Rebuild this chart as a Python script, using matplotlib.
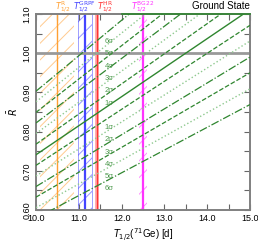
import matplotlib.pyplot as plt
from matplotlib.transforms import blended_transform_factory

plt.switch_backend('Agg')
plt.rcParams['font.family'] = ['Liberation Sans', 'DejaVu Sans']
plt.rcParams['mathtext.fontset'] = 'dejavusans'
plt.rcParams['hatch.linewidth'] = 0.7

# Rbar lines, read at the two ends of the x range (T = 10 d and T = 15 d)
t_ends = [10.0, 15.0]
ground_ends = [0.741, 1.111]
sigma_levels = [1, 2, 3, 4, 5, 6]
upper_ends = [[0.768, 1.152], [0.795, 1.193], [0.822, 1.233],
              [0.849, 1.274], [0.876, 1.314], [0.903, 1.355]]
lower_ends = [[0.714, 1.071], [0.687, 1.031], [0.660, 0.990],
              [0.633, 0.950], [0.606, 0.909], [0.579, 0.869]]

# half-life measurements: name, central value, low edge, high edge
bands = [
    ("R", 10.49, 10.09, 10.89),
    ("GRPF", 11.14, 10.98, 11.30),
    ("HR", 11.43, 11.39, 11.47),
    ("BG22", 12.50, 12.41, 12.60),
]
band_colors = ['#ffa033', '#4444ff', '#ff3333', '#ff33ff']
band_label_x = [10.62, 11.13, 11.62, 12.5]

dark = '#2f862f'
light = '#8fc98f'
styles = {1: ('--', dark), 2: (':', light), 3: ('-.', dark),
          4: ('--', dark), 5: (':', light), 6: ('-.', dark)}


def r_at(ends, t):
    return ends[0] + (ends[1] - ends[0]) * (t - t_ends[0]) / (t_ends[1] - t_ends[0])


fig = plt.figure(figsize=(2.58, 2.44), dpi=100)
ax = fig.add_axes([0.1395, 0.139, 0.8295, 0.804])

# bands
for (name, c, lo, hi), col in zip(bands, band_colors):
    if name == "HR":
        ax.axvspan(lo, hi, facecolor='#ffb0b0', edgecolor='none', zorder=1)
    else:
        ax.axvspan(lo, hi, facecolor='none', edgecolor=col, alpha=0.55,
                   hatch='//', lw=0, zorder=1)
        if name == "GRPF":
            ax.axvline(lo, color=col, lw=0.6, alpha=0.6, zorder=1)
            ax.axvline(hi, color=col, lw=0.6, alpha=0.6, zorder=1)
    lw = 1.6 if name in ("GRPF", "BG22") else 1.0
    ax.axvline(c, color=col, lw=lw, zorder=2)

# R = 1 line
ax.axhline(1.0, color='#999999', lw=2, zorder=2)

# ground state and sigma lines
ax.plot(t_ends, ground_ends, color=dark, lw=1.0, zorder=3)
for n, up, lo in zip(sigma_levels, upper_ends, lower_ends):
    ls, col = styles[n]
    lw = 1.0 if ls == ':' else 0.9
    ax.plot(t_ends, up, ls=ls, color=col, lw=lw, zorder=3)
    ax.plot(t_ends, lo, ls=ls, color=col, lw=lw, zorder=3)
    for ends in (up, lo):
        ax.text(11.6, r_at(ends, 11.6) - 0.018, f'{n}σ', color='#4f9a4f',
                fontsize=5.5, va='center', ha='left', zorder=4)

ax.set_xlim(10, 15)
ax.set_ylim(0.6, 1.1)
ax.set_xticks([10, 11, 12, 13, 14, 15])
ax.set_xticks([10.5, 11.5, 12.5, 13.5, 14.5], minor=True)
ax.set_xticklabels(['10.0', '11.0', '12.0', '13.0', '14.0', '15.0'])
ax.set_yticks([0.6, 0.7, 0.8, 0.9, 1.0, 1.1])
ax.set_yticks([0.65, 0.75, 0.85, 0.95, 1.05], minor=True)
ax.set_yticklabels(['0.60', '0.70', '0.80', '0.90', '1.00', '1.10'], rotation=90,
                   va='center')
ax.tick_params(which='both', direction='in', top=True, right=True, length=4,
               width=0.8, color='#666666', labelsize=6.5, pad=3)
for sp in ax.spines.values():
    sp.set_color('#808080')
    sp.set_linewidth(1.4)

ax.set_xlabel(r'$T_{1/2}$($^{71}$Ge) [d]', fontsize=7, labelpad=2)
ax.set_ylabel(r'$\bar{R}$', fontsize=7, labelpad=2)

trans = blended_transform_factory(ax.transData, ax.transAxes)
for (name, c, lo, hi), col, lx in zip(bands, band_colors, band_label_x):
    ax.text(lx, 0.995, r'$T^{\rm %s}_{1/2}$' % name, color=col, fontsize=6,
            ha='center', va='bottom', transform=trans)

ax.plot([12.0, 15.0], [1.1, 1.1], color=dark, lw=1.2, clip_on=False, zorder=5)
ax.text(1.0, 1.015, 'Ground State', fontsize=7, ha='right', va='bottom',
        transform=ax.transAxes)

fig.savefig('out.png', dpi=100)
